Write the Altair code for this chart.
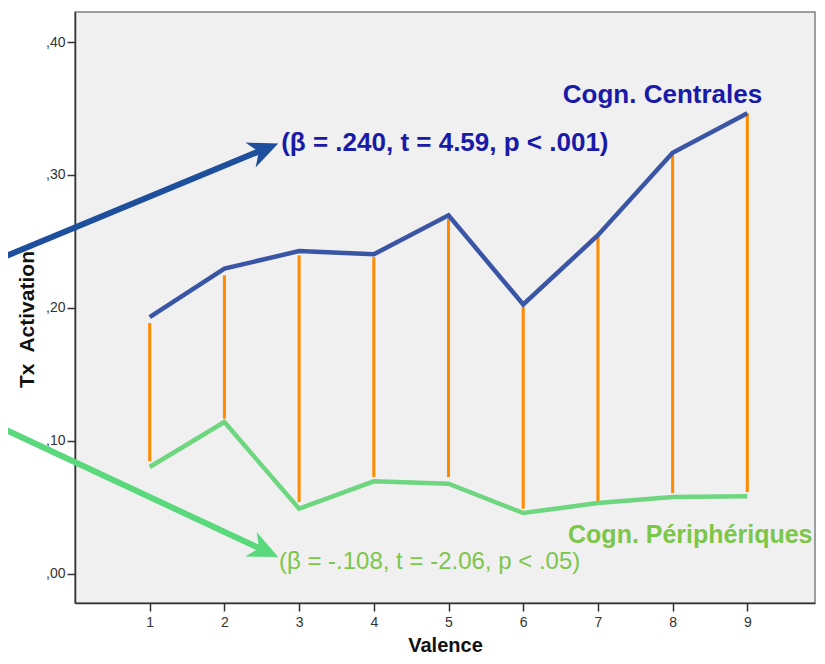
import altair as alt
import pandas as pd

FONT = "Liberation Sans, Arial, sans-serif"

# ---- data ----
valence = [1, 2, 3, 4, 5, 6, 7, 8, 9]
centrales = [0.193, 0.2295, 0.2427, 0.2403, 0.2696, 0.2026, 0.2546, 0.3167, 0.3464]
peripheriques = [0.0802, 0.1141, 0.0489, 0.0695, 0.0677, 0.0456, 0.0531, 0.0576, 0.0582]
ecart_haut = [0.1886, 0.2245, 0.2395, 0.2382, 0.2671, 0.2006, 0.2533, 0.3148, 0.3464]
ecart_bas = [0.0845, 0.1166, 0.0539, 0.0727, 0.0727, 0.0489, 0.0546, 0.0606, 0.0614]

x_ticks = [1, 2, 3, 4, 5, 6, 7, 8, 9]
y_ticks = [0.0, 0.1, 0.2, 0.3, 0.4]

# annotation arrows (data coordinates): start, end of shaft, tip
arrow_blue_x = [-1.0, 2.47]
arrow_blue_y = [0.2372, 0.3179]
arrow_blue_tip = (2.72, 0.3236)
arrow_green_x = [-1.0, 2.477]
arrow_green_y = [0.1101, 0.0189]
arrow_green_tip = (2.72, 0.0125)

label_text = ["Cogn. Centrales", "(\u03b2 = .240, t = 4.59, p < .001)",
              "Cogn. P\u00e9riph\u00e9riques", "(\u03b2 = -.108, t = -2.06, p < .05)"]
label_x = [6.53, 2.76, 6.60, 2.73]
label_y = [0.360, 0.3237, 0.0288, 0.0085]

# ---- scales / axes ----
xs = alt.Scale(domain=[0, 9.906], nice=False, zero=False)
ys = alt.Scale(domain=[-0.0221, 0.4226], nice=False, zero=False)
xaxis = alt.Axis(values=x_ticks, title="Valence", grid=False, tickSize=8, labelPadding=4,
                 labelFontSize=14, titleFontSize=20, titleFontWeight="bold",
                 titleY=52, titleBaseline="bottom", format="d")
yaxis = alt.Axis(values=y_ticks, title="Tx\u00a0 Activation", grid=False, tickSize=8,
                 labelPadding=2, labelFontSize=14,
                 labelExpr="replace(format(datum.value, '.2f'), '0.', ',')",
                 titleFontSize=21, titleFontWeight="bold", titleX=-48, titleY=307,
                 titleBaseline="middle", titleAngle=270)


def X(f):
    return alt.X(f, type="quantitative", scale=xs, axis=xaxis)


def Y(f):
    return alt.Y(f, type="quantitative", scale=ys, axis=yaxis)


df = pd.DataFrame({"valence": valence, "centrales": centrales, "peripheriques": peripheriques,
                   "haut": ecart_haut, "bas": ecart_bas})

orange = alt.Chart(df).mark_rule(color="#ff8a00", strokeWidth=3).encode(
    x=X("valence"), y=Y("haut"), y2="bas")
blue_line = alt.Chart(df).mark_line(color="#3b55a6", strokeWidth=4.5).encode(
    x=X("valence"), y=Y("centrales"))
green_line = alt.Chart(df).mark_line(color="#6dd67f", strokeWidth=4.5).encode(
    x=X("valence"), y=Y("peripheriques"))

arrows = pd.DataFrame({
    "x": arrow_blue_x + arrow_green_x,
    "y": arrow_blue_y + arrow_green_y,
    "which": ["blue", "blue", "green", "green"],
})
arrow_colors = alt.Scale(domain=["blue", "green"], range=["#1e4f9c", "#5ad87c"])
shafts = alt.Chart(arrows).mark_line(strokeWidth=6).encode(
    x=X("x"), y=Y("y"), detail="which:N",
    color=alt.Color("which:N", scale=arrow_colors, legend=None))

heads_df = pd.DataFrame({
    "x": [arrow_blue_tip[0], arrow_green_tip[0]],
    "y": [arrow_blue_tip[1], arrow_green_tip[1]],
    "which": ["blue", "green"],
    "angle": [337.5, 25.0],
})
heads = alt.Chart(heads_df).mark_point(
    shape="M0,0 L-2,-0.9 L-1.4,0 L-2,0.9 Z", filled=True, size=900, opacity=1, strokeWidth=0
).encode(
    x=X("x"), y=Y("y"),
    color=alt.Color("which:N", scale=arrow_colors, legend=None),
    angle=alt.Angle("angle:Q", scale=None))

lab = pd.DataFrame({"text": label_text, "x": label_x, "y": label_y,
                    "col": ["#1a1aa8", "#1a1aa8", "#7cc64a", "#7cc64a"],
                    "size": [26, 26, 25, 24]})
texts_bold = alt.Chart(lab.iloc[:3]).mark_text(
    align="left", baseline="middle", fontWeight="bold", font=FONT
).encode(x=X("x"), y=Y("y"), text="text:N", color=alt.Color("col:N", scale=None),
         size=alt.Size("size:Q", scale=None, legend=None))
texts_norm = alt.Chart(lab.iloc[3:]).mark_text(
    align="left", baseline="middle", fontWeight="normal", font=FONT
).encode(x=X("x"), y=Y("y"), text="text:N", color=alt.Color("col:N", scale=None),
         size=alt.Size("size:Q", scale=None, legend=None))

chart = alt.layer(orange, blue_line, green_line, shafts, heads, texts_bold, texts_norm).resolve_scale(
    color="independent", size="independent"
).properties(
    width=740, height=591,
    padding={"left": 67, "top": 4, "right": 2, "bottom": 53},
    autosize=alt.AutoSizeParams(type="none"),
    background="white",
).configure_view(
    fill="#f0f0f0", stroke="#808080", strokeWidth=1.5
).configure_axis(
    domainColor="#333333", domainWidth=1.5, tickColor="#333333", tickWidth=1.5,
    labelColor="#333333", labelFont=FONT, titleFont=FONT, titleColor="#111111"
)

chart.save("out.html", embed_options={"renderer": "svg", "actions": False})
